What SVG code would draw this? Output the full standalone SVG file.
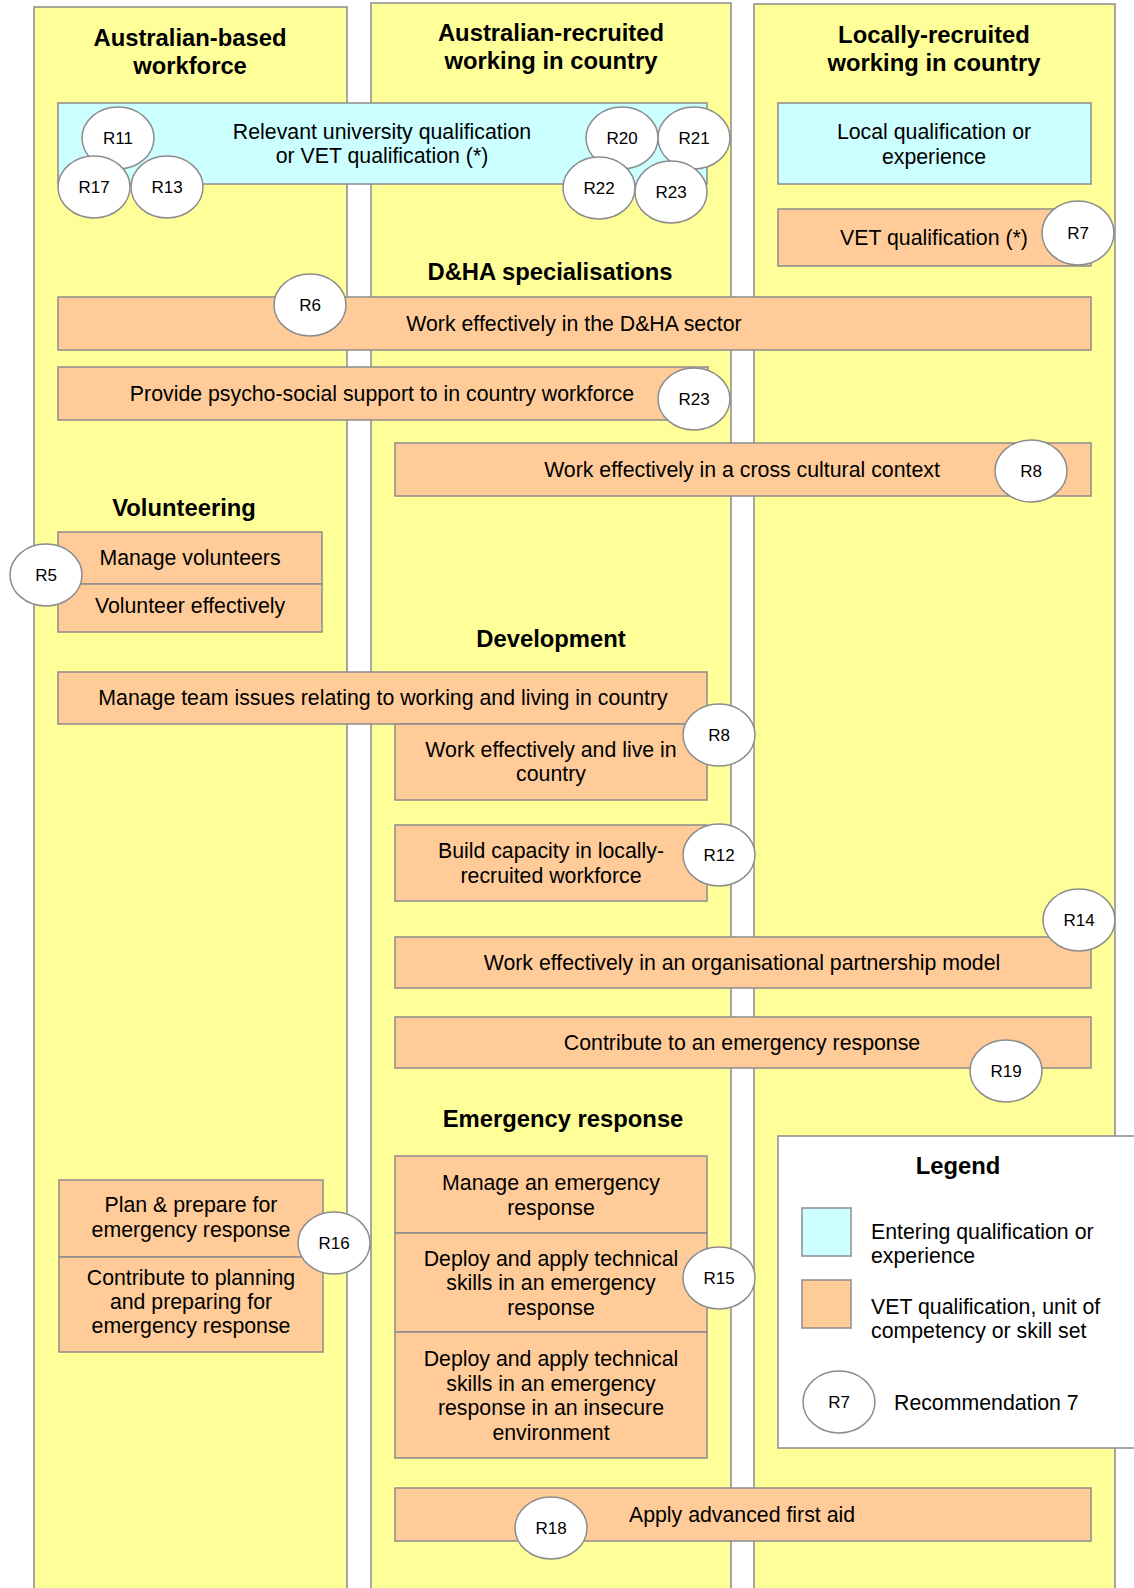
<svg xmlns="http://www.w3.org/2000/svg" width="1134" height="1588" viewBox="0 0 1134 1588">
<style>
.col{fill:#FFFF99;stroke:#8C8C8C;stroke-width:1.5}
.or{fill:#FFCC99;stroke:#8C8C8C;stroke-width:1.5}
.bl{fill:#CCFFFF;stroke:#8C8C8C;stroke-width:1.5}
.rc{fill:#FFFFFF;stroke:#8C8C8C;stroke-width:1.5}
.lg{fill:#FFFFFF;stroke:#8C8C8C;stroke-width:1.5}
text{font-family:"Liberation Sans",Arial,sans-serif;fill:#000}
.h{font-size:23.8px;font-weight:bold;text-anchor:middle}
.t{font-size:21.3px;text-anchor:middle}
.tl{font-size:21.3px;text-anchor:start}
.r{font-size:17px;text-anchor:middle}
</style>
<rect width="1134" height="1588" fill="#FFFFFF"/>
<g id="columns">
<rect class="col" x="34" y="7" width="313" height="1600"/>
<rect class="col" x="371" y="3" width="360" height="1600"/>
<rect class="col" x="754" y="4" width="361" height="1600"/>
</g>
<g id="titles">
<text class="h" x="190" y="46">Australian-based</text>
<text class="h" x="190" y="74">workforce</text>
<text class="h" x="551" y="41">Australian-recruited</text>
<text class="h" x="551" y="69">working in country</text>
<text class="h" x="934" y="43">Locally-recruited</text>
<text class="h" x="934" y="71">working in country</text>
<text class="h" x="550" y="280">D&amp;HA specialisations</text>
<text class="h" x="184" y="516">Volunteering</text>
<text class="h" x="551" y="647">Development</text>
<text class="h" x="563" y="1127">Emergency response</text>
</g>
<g id="node-uni-qual">
<rect class="bl" x="58" y="103" width="649" height="81"/>
<text class="t" x="382" y="139">Relevant university qualification</text>
<text class="t" x="382" y="163">or VET qualification (*)</text>
</g>
<g id="node-local-qual">
<rect class="bl" x="778" y="103" width="313" height="81"/>
<text class="t" x="934" y="139">Local qualification or</text>
<text class="t" x="934" y="164">experience</text>
</g>
<g id="node-vet-qual">
<rect class="or" x="778" y="209" width="313" height="57"/>
<text class="t" x="934" y="245">VET qualification (*)</text>
</g>
<g id="node-dha-sector">
<rect class="or" x="58" y="297" width="1033" height="53"/>
<text class="t" x="574" y="331">Work effectively in the D&amp;HA sector</text>
</g>
<g id="node-psycho">
<rect class="or" x="58" y="367" width="650" height="53"/>
<text class="t" x="382" y="401">Provide psycho-social support to in country workforce</text>
</g>
<g id="node-cross-cultural">
<rect class="or" x="395" y="443" width="696" height="53"/>
<text class="t" x="742" y="477">Work effectively in a cross cultural context</text>
</g>
<g id="node-volunteers">
<rect class="or" x="58" y="532" width="264" height="52"/>
<text class="t" x="190" y="565">Manage volunteers</text>
<rect class="or" x="58" y="584" width="264" height="48"/>
<text class="t" x="190" y="613">Volunteer effectively</text>
</g>
<g id="node-team-issues">
<rect class="or" x="58" y="672" width="649" height="52"/>
<text class="t" x="383" y="705">Manage team issues relating to working and living in country</text>
</g>
<g id="node-live-in-country">
<rect class="or" x="395" y="724" width="312" height="76"/>
<text class="t" x="551" y="757">Work effectively and live in</text>
<text class="t" x="551" y="781">country</text>
</g>
<g id="node-capacity">
<rect class="or" x="395" y="825" width="312" height="76"/>
<text class="t" x="551" y="858">Build capacity in locally-</text>
<text class="t" x="551" y="883">recruited workforce</text>
</g>
<g id="node-partnership">
<rect class="or" x="395" y="937" width="696" height="51"/>
<text class="t" x="742" y="970">Work effectively in an organisational partnership model</text>
</g>
<g id="node-contribute-emergency">
<rect class="or" x="395" y="1017" width="696" height="51"/>
<text class="t" x="742" y="1050">Contribute to an emergency response</text>
</g>
<g id="node-emergency">
<rect class="or" x="395" y="1156" width="312" height="77"/>
<text class="t" x="551" y="1190">Manage an emergency</text>
<text class="t" x="551" y="1215">response</text>
<rect class="or" x="395" y="1233" width="312" height="99"/>
<text class="t" x="551" y="1266">Deploy and apply technical</text>
<text class="t" x="551" y="1290">skills in an emergency</text>
<text class="t" x="551" y="1315">response</text>
<rect class="or" x="395" y="1332" width="312" height="126"/>
<text class="t" x="551" y="1366">Deploy and apply technical</text>
<text class="t" x="551" y="1391">skills in an emergency</text>
<text class="t" x="551" y="1415">response in an insecure</text>
<text class="t" x="551" y="1440">environment</text>
</g>
<g id="node-plan">
<rect class="or" x="59" y="1180" width="264" height="77"/>
<text class="t" x="191" y="1212">Plan &amp; prepare for</text>
<text class="t" x="191" y="1237">emergency response</text>
<rect class="or" x="59" y="1257" width="264" height="95"/>
<text class="t" x="191" y="1285">Contribute to planning</text>
<text class="t" x="191" y="1309">and preparing for</text>
<text class="t" x="191" y="1333">emergency response</text>
</g>
<g id="node-first-aid">
<rect class="or" x="395" y="1488" width="696" height="53"/>
<text class="t" x="742" y="1522">Apply advanced first aid</text>
</g>
<g id="recommendations">
<g id="r11"><ellipse class="rc" cx="118" cy="138" rx="36" ry="31"/><text class="r" x="118" y="144">R11</text></g>
<g id="r17"><ellipse class="rc" cx="94" cy="187" rx="36" ry="31"/><text class="r" x="94" y="193">R17</text></g>
<g id="r13"><ellipse class="rc" cx="167" cy="187" rx="36" ry="31"/><text class="r" x="167" y="193">R13</text></g>
<g id="r20"><ellipse class="rc" cx="622" cy="138" rx="36" ry="31"/><text class="r" x="622" y="144">R20</text></g>
<g id="r21"><ellipse class="rc" cx="694" cy="138" rx="36" ry="31"/><text class="r" x="694" y="144">R21</text></g>
<g id="r22"><ellipse class="rc" cx="599" cy="188" rx="36" ry="31"/><text class="r" x="599" y="194">R22</text></g>
<g id="r23a"><ellipse class="rc" cx="671" cy="192" rx="36" ry="31"/><text class="r" x="671" y="198">R23</text></g>
<g id="r7"><ellipse class="rc" cx="1078" cy="233" rx="36" ry="32"/><text class="r" x="1078" y="239">R7</text></g>
<g id="r6"><ellipse class="rc" cx="310" cy="305" rx="36" ry="31"/><text class="r" x="310" y="311">R6</text></g>
<g id="r23b"><ellipse class="rc" cx="694" cy="399" rx="36" ry="31"/><text class="r" x="694" y="405">R23</text></g>
<g id="r8a"><ellipse class="rc" cx="1031" cy="471" rx="36" ry="31"/><text class="r" x="1031" y="477">R8</text></g>
<g id="r5"><ellipse class="rc" cx="46" cy="575" rx="36" ry="31"/><text class="r" x="46" y="581">R5</text></g>
<g id="r8b"><ellipse class="rc" cx="719" cy="735" rx="36" ry="31"/><text class="r" x="719" y="741">R8</text></g>
<g id="r12"><ellipse class="rc" cx="719" cy="855" rx="36" ry="31"/><text class="r" x="719" y="861">R12</text></g>
<g id="r14"><ellipse class="rc" cx="1079" cy="920" rx="36" ry="31"/><text class="r" x="1079" y="926">R14</text></g>
<g id="r19"><ellipse class="rc" cx="1006" cy="1071" rx="36" ry="31"/><text class="r" x="1006" y="1077">R19</text></g>
<g id="r16"><ellipse class="rc" cx="334" cy="1243" rx="36" ry="31"/><text class="r" x="334" y="1249">R16</text></g>
<g id="r15"><ellipse class="rc" cx="719" cy="1278" rx="36" ry="31"/><text class="r" x="719" y="1284">R15</text></g>
<g id="r18"><ellipse class="rc" cx="551" cy="1528" rx="36" ry="31"/><text class="r" x="551" y="1534">R18</text></g>
</g>
<g id="legend">
<rect class="lg" x="778" y="1136" width="380" height="312"/>
<text class="h" x="958" y="1174">Legend</text>
<rect class="bl" x="802" y="1208" width="49" height="48"/>
<text class="tl" x="871" y="1239">Entering qualification or</text>
<text class="tl" x="871" y="1263">experience</text>
<rect class="or" x="802" y="1280" width="49" height="48"/>
<text class="tl" x="871" y="1314">VET qualification, unit of</text>
<text class="tl" x="871" y="1338">competency or skill set</text>
<ellipse class="rc" cx="839" cy="1402" rx="36" ry="31"/>
<text class="r" x="839" y="1408">R7</text>
<text class="tl" x="894" y="1410">Recommendation 7</text>
</g>
</svg>
